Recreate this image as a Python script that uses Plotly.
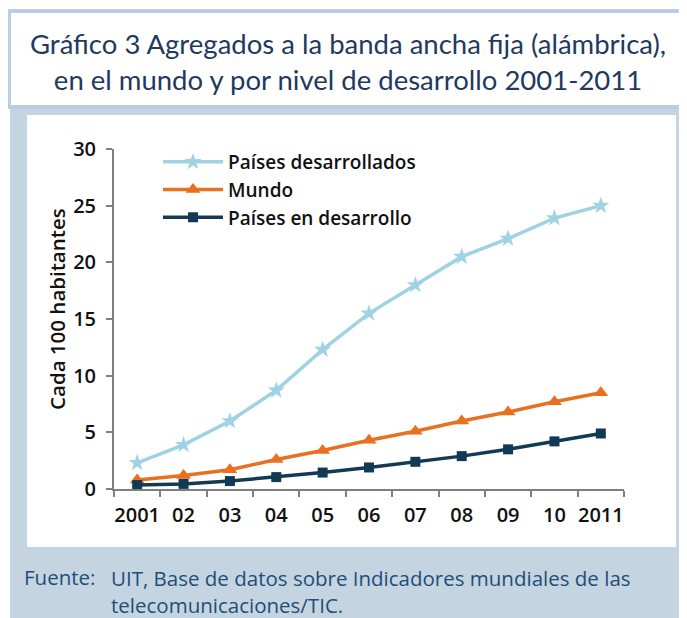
import plotly.graph_objects as go

years = ["2001", "02", "03", "04", "05", "06", "07", "08", "09", "10", "2011"]
desarrollados = [2.3, 3.9, 6.0, 8.7, 12.3, 15.5, 18.0, 20.5, 22.1, 23.9, 25.0]
mundo = [0.8, 1.2, 1.7, 2.6, 3.4, 4.3, 5.1, 6.0, 6.8, 7.7, 8.5]
en_desarrollo = [0.35, 0.45, 0.7, 1.05, 1.45, 1.9, 2.4, 2.9, 3.5, 4.2, 4.9]
series_names = ["Países desarrollados", "Mundo", "Países en desarrollo"]
end_labels = ["25,0", "8,5", "4,9"]

# page body has an 8px margin; compensate so the picture lines up
OFF = 8
W, H = 687 - OFF, 618 - OFF
L, R, T, B = 114, 624, 149, 489  # plot area in page pixels
FONT = "Open Sans"
TITLE_FONT = "Lato"
INK = "#111111"


def px(x):
    return (x - L) / (R - L)


def py(y):
    return (B - y) / (B - T)


fig = go.Figure()
styles = [
    dict(color="#9fd2e2", symbol="star", size=13),
    dict(color="#e8701f", symbol="triangle-up", size=13),
    dict(color="#123a55", symbol="square", size=10),
]
for name, vals, st in zip(series_names, [desarrollados, mundo, en_desarrollo], styles):
    fig.add_trace(go.Scatter(
        x=years, y=vals, name=name, mode="lines+markers",
        line=dict(color=st["color"], width=3.5),
        marker=dict(color=st["color"], symbol=st["symbol"], size=st["size"]),
    ))

for vals, lab in zip([desarrollados, mundo, en_desarrollo], end_labels):
    fig.add_annotation(x=years[-1], y=vals[-1], text=lab, showarrow=False,
                       xanchor="left", yanchor="middle", xshift=11, yshift=2,
                       font=dict(family=FONT, size=20, color=INK, weight=600))

shapes = [
    dict(type="rect", xref="paper", yref="paper", x0=px(10), x1=px(690), y0=py(625), y1=py(107),
         fillcolor="#c5d4e1", line=dict(width=0), layer="below"),
    dict(type="rect", xref="paper", yref="paper", x0=px(27), x1=px(676), y0=py(547), y1=py(115),
         fillcolor="white", line=dict(width=0), layer="below"),
    dict(type="rect", xref="paper", yref="paper", x0=px(9), x1=px(684), y0=py(107), y1=py(11),
         fillcolor="white", line=dict(color="#b9cde4", width=4), layer="below"),
]

fig.add_annotation(xref="paper", yref="paper", x=px(348), y=py(61), showarrow=False,
                   xanchor="center", yanchor="middle",
                   text="Gráfico 3 Agregados a la banda ancha fija (alámbrica),<br>en el mundo y por nivel de desarrollo 2001-2011",
                   font=dict(family=TITLE_FONT, size=27.5, color="#1f3a5f"), align="center")
fig.add_annotation(xref="paper", yref="paper", x=px(22), y=py(577), showarrow=False,
                   xanchor="left", yanchor="middle", text="Fuente:",
                   font=dict(family=FONT, size=20.5, color="#1f4e79"))
fig.add_annotation(xref="paper", yref="paper", x=px(109), y=py(591), showarrow=False,
                   xanchor="left", yanchor="middle", align="left",
                   text="UIT, Base de datos sobre Indicadores mundiales de las<br>telecomunicaciones/TIC.",
                   font=dict(family=FONT, size=20.5, color="#1f4e79"))
fig.add_annotation(xref="paper", yref="paper", x=px(57), y=py(309), showarrow=False,
                   xanchor="center", yanchor="middle", textangle=-90,
                   text="Cada 100 habitantes",
                   font=dict(family=FONT, size=20.5, color=INK, weight=600))

fig.update_layout(
    width=W, height=H,
    margin=dict(l=L - OFF, r=W - (R - OFF), t=T - OFF, b=H - (B - OFF), pad=0),
    paper_bgcolor="white", plot_bgcolor="rgba(0,0,0,0)",
    shapes=shapes,
    showlegend=True,
    legend=dict(x=px(158), y=py(143), xanchor="left", yanchor="top", itemwidth=60,
                bgcolor="rgba(0,0,0,0)", font=dict(family=FONT, size=19, color=INK, weight=600),
                tracegroupgap=0),
    xaxis=dict(type="category", range=[-0.5, 10.5], showgrid=False, showline=True,
               linecolor="#7f7f7f", linewidth=2, ticks="outside", tickson="boundaries",
               ticklen=6, tickcolor="#7f7f7f", tickwidth=2, tickangle=0,
               ticklabelstandoff=7,
               tickfont=dict(family=FONT, size=20, color=INK, weight=600)),
    yaxis=dict(range=[0, 30], dtick=5, showgrid=False, showline=True, zeroline=False,
               linecolor="#7f7f7f", linewidth=2, ticks="outside", ticklen=6,
               tickcolor="#7f7f7f", tickwidth=2, ticklabelstandoff=6,
               tickfont=dict(family=FONT, size=20, color=INK, weight=600)),
)

fig.write_html("out.html")
